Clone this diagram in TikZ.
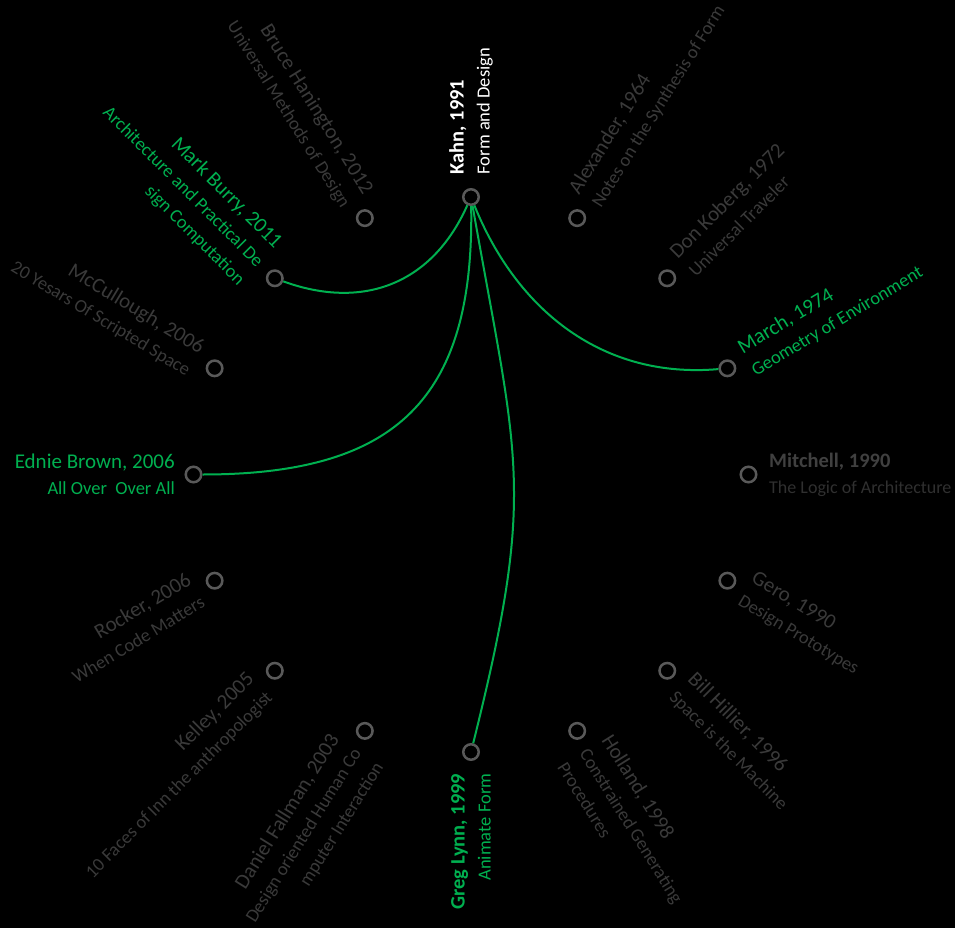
\documentclass[tikz,border=0pt]{standalone}
\usepackage{fontspec}
\setmainfont{Carlito}
\definecolor{ringc}{RGB}{89,89,89}
\definecolor{greenc}{RGB}{0,176,80}
\definecolor{dimc}{RGB}{58,58,58}
\definecolor{mitc}{RGB}{64,64,64}
\definecolor{mitsub}{RGB}{48,48,48}
\newcommand{\lbtitle}[1]{{\fontsize{21}{26}\selectfont #1}}
\newcommand{\lbtitleb}[1]{{\fontsize{20.5}{26}\selectfont\bfseries #1}}
\begin{document}
\begin{tikzpicture}[x=1pt,y=1pt,
  dot/.style={circle,draw=ringc,line width=2.5pt,fill=black,minimum size=15.5pt,inner sep=0pt},
  lblR/.style={anchor=west,align=left,inner sep=0pt,font=\fontsize{18.5}{26}\selectfont},
  lblL/.style={anchor=east,align=right,inner sep=0pt,font=\fontsize{18.5}{26}\selectfont},
  dim/.style={text=dimc},
  grn/.style={text=greenc},
  link/.style={draw=greenc,line width=2pt}]
\fill[black] (0,0) rectangle (955,-928);
\useasboundingbox (0,0) rectangle (955,-928);
\coordinate (c) at (471,-474.5);
% nodes
\node[dot] (kahn) at ([shift={(90:277.5)}]c) {};
\node[dot] (alex) at ([shift={(67.5:277.5)}]c) {};
\node[dot] (kob)  at ([shift={(45:277.5)}]c) {};
\node[dot] (march) at ([shift={(22.5:277.5)}]c) {};
\node[dot] (mit)  at ([shift={(0:277.5)}]c) {};
\node[dot] (gero) at ([shift={(-22.5:277.5)}]c) {};
\node[dot] (hil)  at ([shift={(-45:277.5)}]c) {};
\node[dot] (hol)  at ([shift={(-67.5:277.5)}]c) {};
\node[dot] (lynn) at ([shift={(-90:277.5)}]c) {};
\node[dot] (fal)  at ([shift={(-112.5:277.5)}]c) {};
\node[dot] (kel)  at ([shift={(-135:277.5)}]c) {};
\node[dot] (roc)  at ([shift={(-157.5:277.5)}]c) {};
\node[dot] (ednie) at ([shift={(180:277.5)}]c) {};
\node[dot] (mcc)  at ([shift={(157.5:277.5)}]c) {};
\node[dot] (burry) at ([shift={(135:277.5)}]c) {};
\node[dot] (han)  at ([shift={(112.5:277.5)}]c) {};
% labels right side
\node[lblR,rotate=90,text=white] (kahnL) at ([shift={(90:300)}]c) {\lbtitleb{Kahn, 1991}\\Form and Design};
\node[lblR,rotate=58,dim] (alexL) at ([shift={(67.5:298)}]c) {\lbtitle{Alexander, 1964}\\Notes on the Synthesis of Form};
\node[lblR,rotate=45,dim] (kobL) at ([shift={(45:298)}]c) {\lbtitle{Don Koberg, 1972}\\Universal Traveler};
\node[lblR,rotate=31,grn] (marchL) at ([shift={(22.5:298)}]c) {\lbtitle{March, 1974}\\Geometry of Environment};
\node[lblR,rotate=0] (mitL) at ([shift={(0:298)}]c) {\textcolor{mitc}{\lbtitleb{Mitchell, 1990}}\\\textcolor{mitsub}{\fontsize{18}{26}\selectfont The Logic of Architecture}};
\node[lblR,rotate=-31,dim] (geroL) at ([shift={(-22.5:298)}]c) {\lbtitle{Gero, 1990}\\Design Prototypes};
\node[lblR,rotate=-45,dim] (hilL) at ([shift={(-45:298)}]c) {\lbtitle{Bill Hillier, 1996}\\Space is the Machine};
\node[lblR,rotate=-58,dim] (holL) at ([shift={(-67.5:298)}]c) {\lbtitle{Holland, 1998}\\Constrained Generating\\Procedures};
% labels left side
\node[lblL,rotate=90,grn] (lynnL) at ([shift={(-90:299)}]c) {\lbtitleb{Greg Lynn, 1999}\\Animate Form};
\node[lblL,rotate=58,dim] (falL) at ([shift={(-112.5:298)}]c) {\lbtitle{Daniel Fallman, 2003}\\Design oriented Human Co\\mputer Interaction};
\node[lblL,rotate=45,dim] (kelL) at ([shift={(-135:298)}]c) {\lbtitle{Kelley, 2005}\\10 Faces of Inn the anthropologist};
\node[lblL,rotate=31,dim] (rocL) at ([shift={(-157.5:298)}]c) {\lbtitle{Rocker, 2006}\\When Code Matters};
\node[lblL,rotate=0,grn] (ednieL) at ([shift={(180:296)}]c) {\lbtitle{Ednie Brown, 2006}\\All Over\ \ Over All};
\node[lblL,rotate=-31,dim] (mccL) at ([shift={(157.5:298)}]c) {\lbtitle{McCullough, 2006}\\20 Yesars Of Scripted Space};
\node[lblL,rotate=-45,grn] (burryL) at ([shift={(135:298)}]c) {\lbtitle{Mark Burry, 2011}\\Architecture and Practical De\\sign Computation};
\node[lblL,rotate=-58,dim] (hanL) at ([shift={(112.5:298)}]c) {\lbtitle{Bruce Hanington, 2012}\\Universal Methods of Design};
% connectors
\draw[link] (kahn) to[out=-114,in=-20,looseness=1.1] (burry);
\draw[link] (kahn) to[out=-89,in=0,looseness=1.3] (ednie);
\draw[link] (kahn) to[out=-80,in=76,looseness=1.25] (lynn);
\draw[link] (kahn) to[out=-68,in=185] (march);
\end{tikzpicture}
\end{document}
